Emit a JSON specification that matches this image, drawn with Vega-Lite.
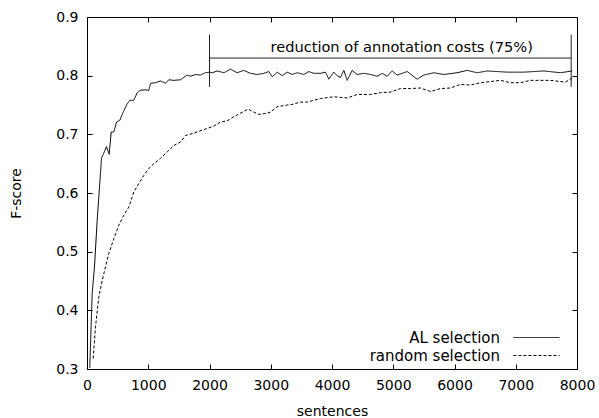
{
  "$schema": "https://vega.github.io/schema/vega-lite/v6.json",
  "width": 490,
  "height": 352,
  "autosize": {"type": "none"},
  "padding": {"left": 87, "top": 17, "right": 22, "bottom": 49},
  "background": "white",
  "config": {
    "font": "DejaVu Sans",
    "view": {"stroke": "black", "strokeWidth": 1},
    "axis": {
      "grid": false,
      "domain": false,
      "ticks": true,
      "tickColor": "black",
      "tickSize": 5,
      "tickWidth": 1,
      "labelColor": "black",
      "labelFont": "DejaVu Sans",
      "labelFontSize": 14,
      "labelFlush": false,
      "labelOverlap": false,
      "titleColor": "black",
      "titleFont": "DejaVu Sans",
      "titleFontSize": 14,
      "titleFontWeight": "normal"
    }
  },
  "datasets": {
    "curves": [
      {"series": "AL selection", "sentences": 45, "fscore": 0.302},
      {"series": "AL selection", "sentences": 85, "fscore": 0.429},
      {"series": "AL selection", "sentences": 122, "fscore": 0.474},
      {"series": "AL selection", "sentences": 166, "fscore": 0.553},
      {"series": "AL selection", "sentences": 237, "fscore": 0.659},
      {"series": "AL selection", "sentences": 318, "fscore": 0.679},
      {"series": "AL selection", "sentences": 362, "fscore": 0.666},
      {"series": "AL selection", "sentences": 395, "fscore": 0.704},
      {"series": "AL selection", "sentences": 438, "fscore": 0.704},
      {"series": "AL selection", "sentences": 482, "fscore": 0.721},
      {"series": "AL selection", "sentences": 536, "fscore": 0.724},
      {"series": "AL selection", "sentences": 591, "fscore": 0.738},
      {"series": "AL selection", "sentences": 656, "fscore": 0.752},
      {"series": "AL selection", "sentences": 699, "fscore": 0.758},
      {"series": "AL selection", "sentences": 765, "fscore": 0.758},
      {"series": "AL selection", "sentences": 819, "fscore": 0.771},
      {"series": "AL selection", "sentences": 873, "fscore": 0.775},
      {"series": "AL selection", "sentences": 955, "fscore": 0.776},
      {"series": "AL selection", "sentences": 1010, "fscore": 0.775},
      {"series": "AL selection", "sentences": 1037, "fscore": 0.787},
      {"series": "AL selection", "sentences": 1118, "fscore": 0.788},
      {"series": "AL selection", "sentences": 1200, "fscore": 0.791},
      {"series": "AL selection", "sentences": 1282, "fscore": 0.787},
      {"series": "AL selection", "sentences": 1336, "fscore": 0.793},
      {"series": "AL selection", "sentences": 1418, "fscore": 0.792},
      {"series": "AL selection", "sentences": 1527, "fscore": 0.793},
      {"series": "AL selection", "sentences": 1580, "fscore": 0.797},
      {"series": "AL selection", "sentences": 1636, "fscore": 0.801},
      {"series": "AL selection", "sentences": 1690, "fscore": 0.799},
      {"series": "AL selection", "sentences": 1771, "fscore": 0.802},
      {"series": "AL selection", "sentences": 1853, "fscore": 0.801},
      {"series": "AL selection", "sentences": 1935, "fscore": 0.805},
      {"series": "AL selection", "sentences": 2005, "fscore": 0.806},
      {"series": "AL selection", "sentences": 2048, "fscore": 0.805},
      {"series": "AL selection", "sentences": 2126, "fscore": 0.808},
      {"series": "AL selection", "sentences": 2235, "fscore": 0.805},
      {"series": "AL selection", "sentences": 2343, "fscore": 0.811},
      {"series": "AL selection", "sentences": 2452, "fscore": 0.805},
      {"series": "AL selection", "sentences": 2560, "fscore": 0.809},
      {"series": "AL selection", "sentences": 2669, "fscore": 0.804},
      {"series": "AL selection", "sentences": 2778, "fscore": 0.802},
      {"series": "AL selection", "sentences": 2887, "fscore": 0.804},
      {"series": "AL selection", "sentences": 2969, "fscore": 0.807},
      {"series": "AL selection", "sentences": 3023, "fscore": 0.798},
      {"series": "AL selection", "sentences": 3105, "fscore": 0.806},
      {"series": "AL selection", "sentences": 3187, "fscore": 0.8},
      {"series": "AL selection", "sentences": 3268, "fscore": 0.806},
      {"series": "AL selection", "sentences": 3350, "fscore": 0.802},
      {"series": "AL selection", "sentences": 3431, "fscore": 0.805},
      {"series": "AL selection", "sentences": 3540, "fscore": 0.802},
      {"series": "AL selection", "sentences": 3622, "fscore": 0.807},
      {"series": "AL selection", "sentences": 3703, "fscore": 0.804},
      {"series": "AL selection", "sentences": 3812, "fscore": 0.804},
      {"series": "AL selection", "sentences": 3894, "fscore": 0.806},
      {"series": "AL selection", "sentences": 3948, "fscore": 0.794},
      {"series": "AL selection", "sentences": 4029, "fscore": 0.806},
      {"series": "AL selection", "sentences": 4084, "fscore": 0.8},
      {"series": "AL selection", "sentences": 4139, "fscore": 0.797},
      {"series": "AL selection", "sentences": 4193, "fscore": 0.809},
      {"series": "AL selection", "sentences": 4248, "fscore": 0.792},
      {"series": "AL selection", "sentences": 4329, "fscore": 0.809},
      {"series": "AL selection", "sentences": 4411, "fscore": 0.802},
      {"series": "AL selection", "sentences": 4520, "fscore": 0.804},
      {"series": "AL selection", "sentences": 4629, "fscore": 0.802},
      {"series": "AL selection", "sentences": 4738, "fscore": 0.799},
      {"series": "AL selection", "sentences": 4819, "fscore": 0.804},
      {"series": "AL selection", "sentences": 4901, "fscore": 0.799},
      {"series": "AL selection", "sentences": 4983, "fscore": 0.808},
      {"series": "AL selection", "sentences": 5064, "fscore": 0.801},
      {"series": "AL selection", "sentences": 5228, "fscore": 0.807},
      {"series": "AL selection", "sentences": 5391, "fscore": 0.794},
      {"series": "AL selection", "sentences": 5499, "fscore": 0.801},
      {"series": "AL selection", "sentences": 5662, "fscore": 0.805},
      {"series": "AL selection", "sentences": 5826, "fscore": 0.802},
      {"series": "AL selection", "sentences": 6044, "fscore": 0.805},
      {"series": "AL selection", "sentences": 6207, "fscore": 0.809},
      {"series": "AL selection", "sentences": 6370, "fscore": 0.805},
      {"series": "AL selection", "sentences": 6534, "fscore": 0.808},
      {"series": "AL selection", "sentences": 6860, "fscore": 0.806},
      {"series": "AL selection", "sentences": 7132, "fscore": 0.806},
      {"series": "AL selection", "sentences": 7458, "fscore": 0.808},
      {"series": "AL selection", "sentences": 7730, "fscore": 0.805},
      {"series": "AL selection", "sentences": 7922, "fscore": 0.808},
      {"series": "random selection", "sentences": 101, "fscore": 0.318},
      {"series": "random selection", "sentences": 139, "fscore": 0.372},
      {"series": "random selection", "sentences": 193, "fscore": 0.423},
      {"series": "random selection", "sentences": 248, "fscore": 0.451},
      {"series": "random selection", "sentences": 302, "fscore": 0.474},
      {"series": "random selection", "sentences": 356, "fscore": 0.497},
      {"series": "random selection", "sentences": 438, "fscore": 0.522},
      {"series": "random selection", "sentences": 519, "fscore": 0.545},
      {"series": "random selection", "sentences": 601, "fscore": 0.562},
      {"series": "random selection", "sentences": 683, "fscore": 0.576},
      {"series": "random selection", "sentences": 765, "fscore": 0.602},
      {"series": "random selection", "sentences": 846, "fscore": 0.616},
      {"series": "random selection", "sentences": 928, "fscore": 0.63},
      {"series": "random selection", "sentences": 1010, "fscore": 0.642},
      {"series": "random selection", "sentences": 1091, "fscore": 0.65},
      {"series": "random selection", "sentences": 1200, "fscore": 0.659},
      {"series": "random selection", "sentences": 1309, "fscore": 0.67},
      {"series": "random selection", "sentences": 1418, "fscore": 0.681},
      {"series": "random selection", "sentences": 1527, "fscore": 0.687},
      {"series": "random selection", "sentences": 1608, "fscore": 0.698},
      {"series": "random selection", "sentences": 1744, "fscore": 0.702},
      {"series": "random selection", "sentences": 1907, "fscore": 0.708},
      {"series": "random selection", "sentences": 2070, "fscore": 0.714},
      {"series": "random selection", "sentences": 2180, "fscore": 0.721},
      {"series": "random selection", "sentences": 2289, "fscore": 0.723},
      {"series": "random selection", "sentences": 2397, "fscore": 0.73},
      {"series": "random selection", "sentences": 2452, "fscore": 0.733},
      {"series": "random selection", "sentences": 2630, "fscore": 0.743},
      {"series": "random selection", "sentences": 2779, "fscore": 0.735},
      {"series": "random selection", "sentences": 2805, "fscore": 0.734},
      {"series": "random selection", "sentences": 2942, "fscore": 0.736},
      {"series": "random selection", "sentences": 2996, "fscore": 0.738},
      {"series": "random selection", "sentences": 3105, "fscore": 0.747},
      {"series": "random selection", "sentences": 3268, "fscore": 0.75},
      {"series": "random selection", "sentences": 3350, "fscore": 0.751},
      {"series": "random selection", "sentences": 3486, "fscore": 0.755},
      {"series": "random selection", "sentences": 3595, "fscore": 0.755},
      {"series": "random selection", "sentences": 3812, "fscore": 0.761},
      {"series": "random selection", "sentences": 4029, "fscore": 0.764},
      {"series": "random selection", "sentences": 4248, "fscore": 0.762},
      {"series": "random selection", "sentences": 4411, "fscore": 0.768},
      {"series": "random selection", "sentences": 4629, "fscore": 0.768},
      {"series": "random selection", "sentences": 4792, "fscore": 0.771},
      {"series": "random selection", "sentences": 4955, "fscore": 0.772},
      {"series": "random selection", "sentences": 5118, "fscore": 0.778},
      {"series": "random selection", "sentences": 5282, "fscore": 0.778},
      {"series": "random selection", "sentences": 5445, "fscore": 0.779},
      {"series": "random selection", "sentences": 5608, "fscore": 0.773},
      {"series": "random selection", "sentences": 5771, "fscore": 0.778},
      {"series": "random selection", "sentences": 5935, "fscore": 0.779},
      {"series": "random selection", "sentences": 6098, "fscore": 0.785},
      {"series": "random selection", "sentences": 6261, "fscore": 0.784},
      {"series": "random selection", "sentences": 6424, "fscore": 0.788},
      {"series": "random selection", "sentences": 6588, "fscore": 0.79},
      {"series": "random selection", "sentences": 6751, "fscore": 0.792},
      {"series": "random selection", "sentences": 6914, "fscore": 0.788},
      {"series": "random selection", "sentences": 7077, "fscore": 0.788},
      {"series": "random selection", "sentences": 7240, "fscore": 0.792},
      {"series": "random selection", "sentences": 7404, "fscore": 0.792},
      {"series": "random selection", "sentences": 7567, "fscore": 0.792},
      {"series": "random selection", "sentences": 7730, "fscore": 0.79},
      {"series": "random selection", "sentences": 7812, "fscore": 0.789},
      {"series": "random selection", "sentences": 7922, "fscore": 0.796}
    ],
    "brackets": [
      {"x1": 2000, "x2": 7905, "y1": 0.83, "y2": 0.83},
      {"x1": 2000, "x2": 2000, "y1": 0.781, "y2": 0.87},
      {"x1": 7905, "x2": 7905, "y1": 0.781, "y2": 0.87}
    ],
    "note": [
      {"x": 5138, "y": 0.848, "text": "reduction of annotation costs (75%)"}
    ]
  },
  "resolve": {"axis": {"x": "independent", "y": "independent"}},
  "layer": [
    {
      "data": {"name": "curves"},
      "mark": {"type": "line", "color": "black", "strokeWidth": 1, "clip": true},
      "encoding": {
        "x": {
          "field": "sentences", "type": "quantitative",
          "scale": {"domain": [0, 8000], "nice": false, "zero": false},
          "axis": {"orient": "bottom", "offset": -5, "values": [0, 1000, 2000, 3000, 4000, 5000, 6000, 7000, 8000], "format": "d", "title": "sentences", "labelPadding": 9, "titlePadding": 12}
        },
        "y": {
          "field": "fscore", "type": "quantitative",
          "scale": {"domain": [0.3, 0.9], "nice": false, "zero": false},
          "axis": {"orient": "left", "offset": -5, "values": [0.3, 0.4, 0.5, 0.6, 0.7, 0.8, 0.9], "format": ".1f", "title": "F-score", "labelPadding": 9, "titlePadding": 32}
        },
        "strokeDash": {
          "field": "series", "type": "nominal",
          "scale": {"domain": ["AL selection", "random selection"], "range": [[1, 0], [3, 2]]},
          "legend": {
            "orient": "none", "legendX": 442, "legendY": 313, "title": null,
            "symbolType": "M-5,0H5", "symbolSize": 85, "symbolStrokeWidth": 1, "symbolStrokeColor": "black", "symbolFillColor": "transparent",
            "labelAlign": "right", "labelOffset": -44, "labelFontSize": 15, "labelFont": "DejaVu Sans", "labelColor": "black",
            "padding": 0, "rowPadding": 2
          }
        }
      }
    },
    {
      "data": {"name": "brackets"},
      "mark": {"type": "rule", "color": "#222222", "strokeWidth": 1},
      "encoding": {
        "x": {
          "field": "x1", "type": "quantitative",
          "scale": {"domain": [0, 8000], "nice": false, "zero": false},
          "axis": {"orient": "top", "offset": -5, "values": [0, 1000, 2000, 3000, 4000, 5000, 6000, 7000, 8000], "labels": false, "title": null}
        },
        "x2": {"field": "x2"},
        "y": {
          "field": "y1", "type": "quantitative",
          "scale": {"domain": [0.3, 0.9], "nice": false, "zero": false},
          "axis": {"orient": "right", "offset": -5, "values": [0.3, 0.4, 0.5, 0.6, 0.7, 0.8, 0.9], "labels": false, "title": null}
        },
        "y2": {"field": "y2"}
      }
    },
    {
      "data": {"name": "note"},
      "mark": {"type": "text", "fontSize": 14.6, "font": "DejaVu Sans", "color": "black", "baseline": "middle", "align": "center"},
      "encoding": {
        "x": {"field": "x", "type": "quantitative", "axis": null},
        "y": {"field": "y", "type": "quantitative", "axis": null},
        "text": {"field": "text"}
      }
    }
  ]
}
